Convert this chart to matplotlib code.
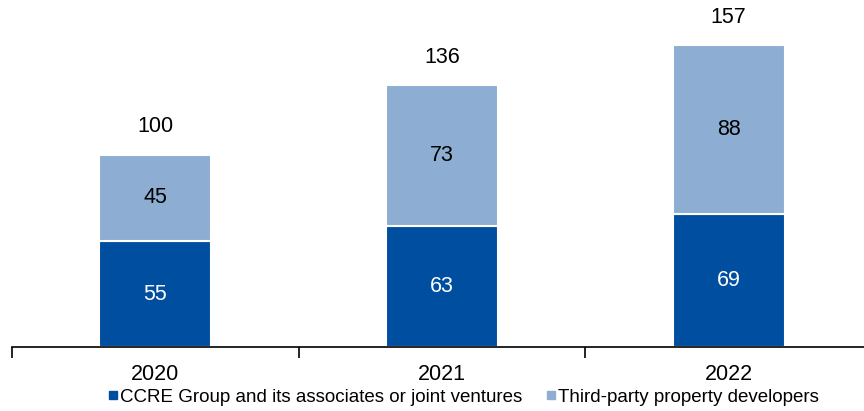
import matplotlib
matplotlib.use("Agg")
import matplotlib.pyplot as plt
from matplotlib.lines import Line2D
import numpy as np

plt.rcParams['font.family'] = ['Liberation Sans', 'DejaVu Sans']

years = ["2020", "2021", "2022"]
ccre = [55, 63, 69]
third = [45, 73, 88]
totals = [100, 136, 157]
series_names = ["CCRE Group and its associates or joint ventures", "Third-party property developers"]

c_dark = "#004EA0"
c_light = "#8DAED2"

fig = plt.figure(figsize=(8.64, 4.11), dpi=100)
ax = fig.add_axes([12/864, 64/411, 860/864, 347/411])
x = np.arange(len(years))
w = 0.39
ax.bar(x, ccre, w, color=c_dark, edgecolor="white", linewidth=1.5)
ax.bar(x, third, w, bottom=ccre, color=c_light, edgecolor="white", linewidth=1.5)

for i in range(len(years)):
    ax.text(x[i], ccre[i]/2, str(ccre[i]), ha="center", va="center", color="white", fontsize=15.5)
    ax.text(x[i], ccre[i] + third[i]/2, str(third[i]), ha="center", va="center", color="black", fontsize=15.5)
    ax.text(x[i], totals[i] + 14.5, str(totals[i]), ha="center", va="center", color="black", fontsize=15.5)

ax.set_xlim(-0.5, 2.5)
ax.set_ylim(0, 180.4)
for s in ["top", "right", "left"]:
    ax.spines[s].set_visible(False)
ax.spines["bottom"].set_linewidth(1.2)
ax.set_yticks([])
ax.set_xticks(x)
ax.set_xticklabels(years, fontsize=15.5)
ax.tick_params(axis="x", which="major", length=0, pad=12)
ax.set_xticks([-0.5, 0.5, 1.5, 2.5], minor=True)
ax.tick_params(axis="x", which="minor", length=8, width=1.2, direction="out")

handles = [Line2D([], [], marker="s", linestyle="none", markersize=6, color=c_dark),
           Line2D([], [], marker="s", linestyle="none", markersize=6, color=c_light)]
fig.legend(handles, series_names, loc="center", bbox_to_anchor=(463/864, 14/411), ncol=2,
           frameon=False, fontsize=13.5, handlelength=0.6, handletextpad=0.1, columnspacing=1.2,
           borderpad=0)

fig.savefig("out.png", dpi=100)
